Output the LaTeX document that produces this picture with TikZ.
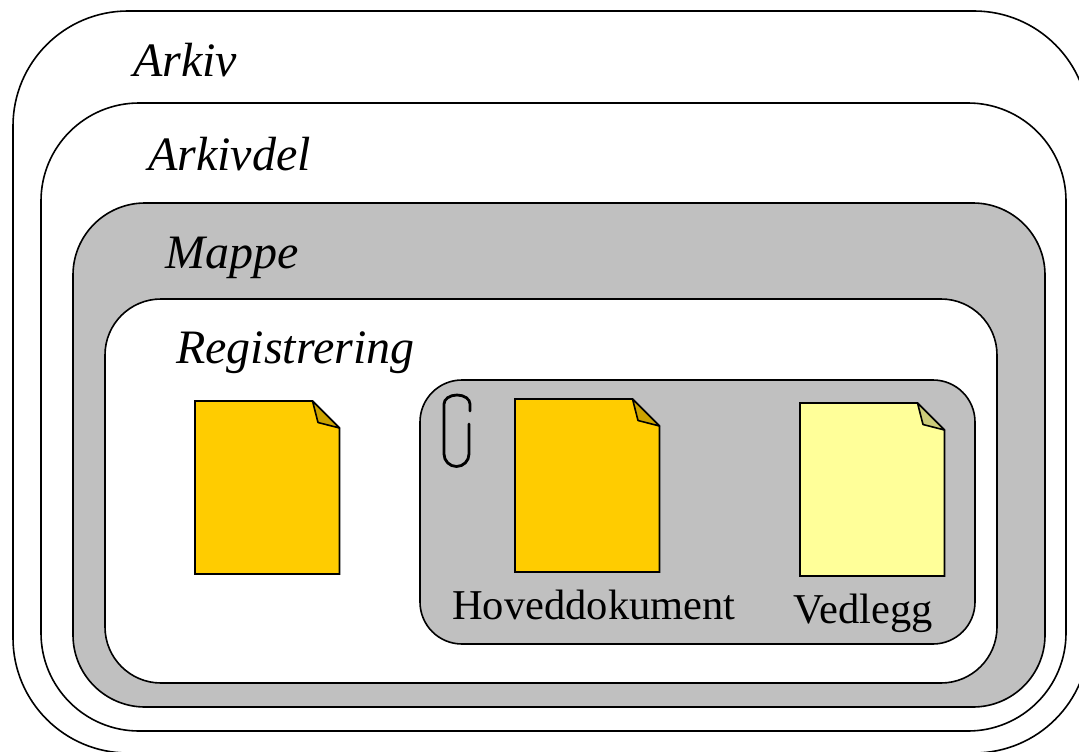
\documentclass[tikz,border=0pt]{standalone}
\usepackage{fontspec}
\setmainfont{Liberation Serif}
\definecolor{boxgrey}{HTML}{C0C0C0}
\definecolor{docorange}{HTML}{FFCC00}
\definecolor{foldorange}{HTML}{CCA300}
\definecolor{docyellow}{HTML}{FFFF99}
\definecolor{foldyellow}{HTML}{CCCC7A}
\tikzset{
  outline/.style={draw=black,line width=1.6pt},
  levellabel/.style={anchor=base west,inner sep=0pt,font=\fontsize{48}{52}\selectfont\itshape},
  doclabel/.style={anchor=base west,inner sep=0pt,font=\fontsize{42.5}{46}\selectfont},
}
\newcommand{\docsheet}[4]{%
  % #1 left, #2 top, #3 fill, #4 fold fill; sheet is 145 x 173
  \begin{scope}[shift={(#1,#2)}]
    \path[outline,fill=#3,line join=miter] (0,0) -- (117.5,0) -- (144.5,27) -- (144.5,173) -- (0,173) -- cycle;
    \path[outline,fill=#4,line join=round] (117.5,0) -- (123,21.5) -- (144.5,27) -- cycle;
  \end{scope}}
\begin{document}
\begin{tikzpicture}[x=1pt,y=-1pt]
\useasboundingbox (0,0) rectangle (1079,752);
\begin{scope}
\clip (0,0) rectangle (1079,752);
\draw[outline,fill=white,rounded corners=115pt] (13,11) rectangle (1089,753);
\draw[outline,fill=white,rounded corners=98pt] (41,103) rectangle (1066,731);
\draw[outline,fill=boxgrey,rounded corners=72pt] (73,203) rectangle (1045,707);
\draw[outline,fill=white,rounded corners=56pt] (105,299) rectangle (997,683);
\draw[outline,fill=boxgrey,rounded corners=42pt] (420,380) rectangle (975,644);
\end{scope}
\node[levellabel] (arkiv) at (133,76.5) {Arkiv};
\node[levellabel] (arkivdel) at (148,170.5) {Arkivdel};
\node[levellabel] (mappe) at (165,268.5) {Mappe};
\node[levellabel] (registrering) at (176,363.5) {Registrering};
\docsheet{195}{401}{docorange}{foldorange}
\docsheet{515}{399}{docorange}{foldorange}
\docsheet{800}{403}{docyellow}{foldyellow}
\draw[line width=2.8pt,line cap=round] (470,411) -- (470,404) arc[start angle=0,end angle=-180,x radius=13,y radius=9] -- (444,454) arc[start angle=180,end angle=0,x radius=12.5,y radius=12.5] -- (469,424);
\node[doclabel] (hoved) at (452,619) {Hoveddokument};
\node[doclabel] (vedlegg) at (793,623.5) {Vedlegg};
\end{tikzpicture}
\end{document}
